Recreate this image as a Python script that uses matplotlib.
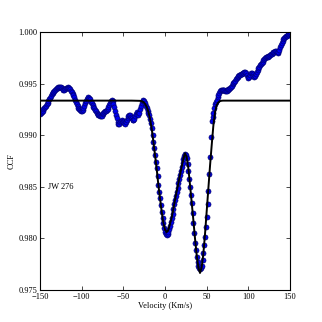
import numpy as np
import matplotlib
matplotlib.use("Agg")
import matplotlib.pyplot as plt

plt.rcParams['font.family'] = ['Liberation Serif', 'DejaVu Serif']

# observed CCF, one value per km/s from -150 to 150
velocity = np.arange(-150, 151)
ccf = [
    0.99210, 0.99212, 0.99220, 0.99235, 0.99250, 0.99262, 0.99272, 0.99285, 0.99300, 0.99315,
    0.99330, 0.99348, 0.99365, 0.99380, 0.99395, 0.99408, 0.99420, 0.99430, 0.99440, 0.99448,
    0.99455, 0.99460, 0.99464, 0.99467, 0.99470, 0.99468, 0.99460, 0.99448, 0.99438, 0.99440,
    0.99448, 0.99456, 0.99462, 0.99464, 0.99460, 0.99454, 0.99445, 0.99432, 0.99418, 0.99402,
    0.99385, 0.99366, 0.99345, 0.99322, 0.99300, 0.99282, 0.99265, 0.99250, 0.99240, 0.99234,
    0.99232, 0.99240, 0.99262, 0.99285, 0.99310, 0.99332, 0.99350, 0.99365, 0.99372, 0.99365,
    0.99348, 0.99325, 0.99308, 0.99292, 0.99277, 0.99260, 0.99245, 0.99230, 0.99218, 0.99210,
    0.99200, 0.99192, 0.99186, 0.99182, 0.99190, 0.99205, 0.99218, 0.99225, 0.99232, 0.99238,
    0.99242, 0.99250, 0.99270, 0.99292, 0.99315, 0.99335, 0.99342, 0.99330, 0.99300, 0.99270,
    0.99235, 0.99200, 0.99165, 0.99130, 0.99110, 0.99108, 0.99125, 0.99140, 0.99145, 0.99140,
    0.99130, 0.99118, 0.99112, 0.99125, 0.99145, 0.99170, 0.99190, 0.99200, 0.99195, 0.99180,
    0.99165, 0.99150, 0.99145, 0.99160, 0.99185, 0.99210, 0.99228, 0.99215, 0.99195, 0.99215,
    0.99250, 0.99285, 0.99310, 0.99330, 0.99338, 0.99328, 0.99310, 0.99285, 0.99262, 0.99235,
    0.99215, 0.99196, 0.99160, 0.99115, 0.99067, 0.99005, 0.98937, 0.98872, 0.98808, 0.98742,
    0.98679, 0.98600, 0.98517, 0.98450, 0.98389, 0.98322, 0.98259, 0.98200, 0.98146, 0.98100,
    0.98065, 0.98040, 0.98032, 0.98040, 0.98060, 0.98090, 0.98125, 0.98160, 0.98195, 0.98240,
    0.98285, 0.98330, 0.98372, 0.98412, 0.98452, 0.98493, 0.98534, 0.98575, 0.98615, 0.98655,
    0.98695, 0.98733, 0.98770, 0.98800, 0.98820, 0.98810, 0.98775, 0.98720, 0.98650, 0.98575,
    0.98500, 0.98420, 0.98340, 0.98245, 0.98146, 0.98050, 0.97960, 0.97885, 0.97823, 0.97770,
    0.97730, 0.97712, 0.97705, 0.97712, 0.97735, 0.97790, 0.97855, 0.97935, 0.98017, 0.98110,
    0.98210, 0.98330, 0.98460, 0.98620, 0.98790, 0.98980, 0.99135, 0.99180, 0.99215, 0.99262,
    0.99300, 0.99325, 0.99345, 0.99370, 0.99392, 0.99410, 0.99425, 0.99435, 0.99440, 0.99442,
    0.99441, 0.99437, 0.99433, 0.99431, 0.99431, 0.99436, 0.99443, 0.99450, 0.99457, 0.99468,
    0.99480, 0.99493, 0.99506, 0.99518, 0.99530, 0.99542, 0.99554, 0.99562, 0.99572, 0.99580,
    0.99587, 0.99592, 0.99596, 0.99600, 0.99603, 0.99608, 0.99612, 0.99600, 0.99580, 0.99560,
    0.99554, 0.99565, 0.99585, 0.99600, 0.99603, 0.99590, 0.99570, 0.99561, 0.99575, 0.99595,
    0.99615, 0.99635, 0.99650, 0.99665, 0.99680, 0.99690, 0.99700, 0.99713, 0.99725, 0.99737,
    0.99748, 0.99753, 0.99757, 0.99760, 0.99764, 0.99770, 0.99776, 0.99782, 0.99787, 0.99795,
    0.99803, 0.99811, 0.99819, 0.99812, 0.99803, 0.99797, 0.99810, 0.99830, 0.99852, 0.99877,
    0.99895, 0.99912, 0.99928, 0.99942, 0.99950, 0.99957, 0.99963, 0.99968, 0.99978, 0.99990,
    1.00000,
]

# two-component fit
fit_v = [-150, -40] + list(range(-30, 72, 2)) + [150]
fit_ccf = [0.99335, 0.99335,
    0.99333, 0.99330, 0.99322, 0.99305, 0.99275, 0.99228, 0.99160, 0.99065, 0.98940, 0.98808,
    0.98675, 0.98520, 0.98390, 0.98260, 0.98150, 0.98085, 0.98060, 0.98080, 0.98140, 0.98200,
    0.98285, 0.98372, 0.98455, 0.98534, 0.98615, 0.98695, 0.98770, 0.98825, 0.98790, 0.98680,
    0.98520, 0.98350, 0.98180, 0.98000, 0.97840, 0.97720, 0.97665, 0.97720, 0.97850, 0.98040,
    0.98260, 0.98480, 0.98700, 0.98900, 0.99090, 0.99220, 0.99290, 0.99318, 0.99330, 0.99334,
    0.99335,
    0.99335]

fig = plt.figure(figsize=(3.22, 3.22), dpi=100)
ax = fig.add_axes([40/322, 1-290/322, 250/322, 258/322])

ax.plot(velocity, ccf, 'o', color='#0000f0', mec='#000070', mew=0.5, ms=3.6)
ax.plot(fit_v, fit_ccf, 'k-', lw=1.4)

ax.set_xlim(-150, 150)
ax.set_ylim(0.975, 1.000)
ax.set_xticks([-150, -100, -50, 0, 50, 100, 150])
ax.set_yticks([0.975, 0.980, 0.985, 0.990, 0.995, 1.000])
ax.set_yticklabels(['%.3f' % t for t in ax.get_yticks()])
ax.tick_params(direction='in', top=True, right=True, labelsize=6, length=3, width=0.5, pad=2)
for s in ax.spines.values():
    s.set_linewidth(0.8)

ax.set_xlabel('Velocity (Km/s)', fontsize=6, labelpad=1)
ax.set_ylabel('CCF', fontsize=6, labelpad=2)
ax.text(-140, 0.985, 'JW 276', fontsize=6, va='center')

fig.savefig('out.png', dpi=100)
